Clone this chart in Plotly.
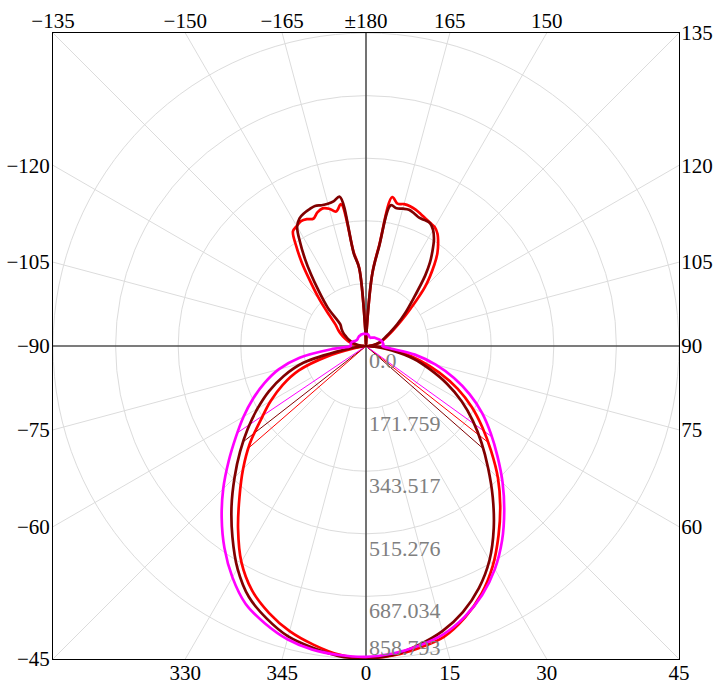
import numpy as np
import plotly.graph_objects as go

# ---------------- data ----------------
R_MAX = 858.793
ring_values = [0.0, 171.759, 343.517, 515.276, 687.034, 858.793]
ring_labels = ["0.0", "171.759", "343.517", "515.276", "687.034", "858.793"]

gamma = [0, 5, 10, 15, 20, 25, 30, 35, 40, 45, 50, 55, 60, 65, 70, 75, 80, 85, 90,
         95, 100, 105, 110, 115, 120, 125, 130, 135, 140,
         142.5, 145, 147.5, 150, 152.5, 155, 157.5, 160, 162.5, 165, 167.5, 170,
         172.5, 175, 177.5, 180]

magenta_right = [853, 847, 835, 819, 791, 754, 707, 651, 590, 530, 471, 418, 368, 314, 257, 198, 136, 62, 45,
                 48, 47, 46, 44, 41, 38, 36, 34, 33, 30,
                 29, 28, 27, 26, 26, 26, 26, 27, 28, 30, 31, 32, 33, 33, 33, 33]
magenta_left = [853, 851, 846, 833, 810, 781, 733, 677, 616, 554, 492, 436, 388, 342, 296, 248, 185, 92, 42,
                42, 42, 41, 37, 33, 31, 30, 30, 31, 32,
                32, 33, 33, 33, 33, 34, 34, 34, 34, 34, 34, 34, 34, 33, 33, 33]

red_right = [856, 852, 841, 826, 793, 750, 696, 634, 573, 512, 448, 390, 335, 277, 214, 153, 95, 40, 5,
             18, 30, 42, 52, 65, 85, 115, 160, 229, 292,
             322, 345, 365, 377, 381, 386, 392, 398, 402, 403, 400, 415, 280, 200, 50, 0]
red_left = [856, 850, 832, 810, 779, 740, 684, 612, 540, 477, 416, 352, 302, 252, 196, 110, 30, 8, 5,
            25, 38, 50, 62, 75, 88, 102, 131, 180, 246,
            290, 333, 373, 380, 386, 384, 378, 390, 396, 390, 378, 395, 260, 215, 50, 0]

darkred_right = [857, 851, 833, 810, 777, 733, 678, 611, 541, 474, 414, 358, 303, 245, 186, 135, 72, 30, 5,
                 15, 27, 38, 48, 60, 78, 105, 140, 184, 253,
                 288, 318, 347, 368, 380, 381, 381, 387, 392, 390, 387, 392, 275, 200, 50, 0]
darkred_left = [857, 854, 841, 825, 796, 760, 705, 639, 574, 510, 451, 396, 344, 294, 240, 178, 62, 15, 3,
                15, 28, 40, 50, 60, 72, 82, 92, 148, 208,
                248, 292, 336, 378, 395, 402, 406, 409, 405, 404, 407, 416, 255, 215, 45, 0]

bottom_angles = [-30, -15, 0, 15, 30, 45]
bottom_labels = ["330", "345", "0", "15", "30", "45"]
left_angles = [-45, -60, -75, -90, -105, -120]
left_labels = ["\u221245", "\u221260", "\u221275", "\u221290", "\u2212105", "\u2212120"]
top_angles = [-135, -150, -165, 180, 165, 150]
top_labels = ["\u2212135", "\u2212150", "\u2212165", "\u00b1180", "165", "150"]
right_angles = [60, 75, 90, 105, 120, 135]
right_labels = ["60", "75", "90", "105", "120", "135"]

series = [
    ("red", "#ff0000", red_left, red_right),
    ("darkred", "#800000", darkred_left, darkred_right),
    ("magenta", "#ff00ff", magenta_left, magenta_right),
]

# ---------------- helpers ----------------
R = R_MAX


def to_xy(theta_deg, r):
    t = np.radians(np.asarray(theta_deg, dtype=float))
    r = np.asarray(r, dtype=float)
    return r * np.sin(t), -r * np.cos(t)


def half_point(vals):
    peak = vals[0]
    half = peak / 2.0
    for i in range(1, len(gamma)):
        if gamma[i] > 90:
            break
        if vals[i] < half:
            g0, g1 = gamma[i - 1], gamma[i]
            v0, v1 = vals[i - 1], vals[i]
            g = g0 + (v0 - half) / (v0 - v1) * (g1 - g0)
            return g, half
    return None, None


fig = go.Figure()

# radial grid lines (every 15 deg, from first ring to the frame)
gx, gy = [], []
for a in range(0, 360, 15):
    if a % 90 == 0:
        continue
    s, c = np.sin(np.radians(a)), np.cos(np.radians(a))
    t_end = R / max(abs(s), abs(c))
    x0, y0 = to_xy([a], [ring_values[1]])
    x1, y1 = to_xy([a], [t_end])
    gx += [x0[0], x1[0], None]
    gy += [y0[0], y1[0], None]
fig.add_trace(go.Scatter(x=gx, y=gy, mode="lines", line=dict(color="#dcdcdc", width=1),
                         hoverinfo="skip", showlegend=False))

# beam (half intensity) lines
for name, color, left, right in series:
    for side, vals in ((-1, left), (1, right)):
        g, h = half_point(vals)
        if g is None:
            continue
        bx, by = to_xy([side * g, side * g], [0, h])
        fig.add_trace(go.Scatter(x=bx, y=by, mode="lines", line=dict(color=color, width=1),
                                 hoverinfo="skip", showlegend=False))

# intensity curves
for name, color, left, right in series:
    theta = [-g for g in gamma[::-1]] + gamma[1:]
    rr = left[::-1] + right[1:]
    cx, cy = to_xy(theta, rr)
    fig.add_trace(go.Scatter(x=cx, y=cy, mode="lines", name=name,
                             line=dict(color=color, width=2.7, shape="spline", smoothing=1.0),
                             showlegend=False))

# invisible trace to activate secondary axes
fig.add_trace(go.Scatter(x=[0], y=[0], xaxis="x2", yaxis="y2", mode="markers",
                         marker=dict(opacity=0), hoverinfo="skip", showlegend=False))

shapes = []
for r in ring_values[1:]:
    shapes.append(dict(type="circle", xref="x", yref="y", x0=-r, x1=r, y0=-r, y1=r,
                       line=dict(color="#dcdcdc", width=1), layer="below"))
shapes.append(dict(type="line", xref="x", yref="y", x0=-R, x1=R, y0=0, y1=0,
                   line=dict(color="#505050", width=1.6), layer="below"))
shapes.append(dict(type="line", xref="x", yref="y", x0=0, x1=0, y0=-R, y1=R,
                   line=dict(color="#505050", width=1.6), layer="below"))

annotations = []
for i, (rv, lab) in enumerate(zip(ring_values, ring_labels)):
    last = i == len(ring_values) - 1
    annotations.append(dict(x=0, y=-rv, xref="x", yref="y", text=lab, showarrow=False,
                            xanchor="left", yanchor="bottom" if last else "top",
                            xshift=1, yshift=-3 if last else 0,
                            font=dict(family="Liberation Serif", size=22, color="#808080")))

bottom_pos = [R * np.tan(np.radians(a)) for a in bottom_angles]
left_pos = [R * np.cos(np.radians(a)) / np.sin(np.radians(a)) for a in left_angles]
top_pos = [-R * np.tan(np.radians(a)) for a in top_angles]
right_pos = [-R * np.cos(np.radians(a)) / np.sin(np.radians(a)) for a in right_angles]

tickfont = dict(family="Liberation Serif", size=21, color="#000000")
axis_common = dict(range=[-R, R], showgrid=False, zeroline=False, showline=True,
                   linecolor="#000000", linewidth=1, ticks="", tickfont=tickfont,
                   fixedrange=True, tickmode="array", automargin=False)

fig.update_layout(
    width=716, height=684,
    margin=dict(l=53, r=37, t=33, b=25, autoexpand=False),
    paper_bgcolor="white", plot_bgcolor="white",
    showlegend=False,
    xaxis=dict(**axis_common, tickvals=bottom_pos, ticktext=bottom_labels, ticklabelstandoff=-5),
    yaxis=dict(**axis_common, tickvals=left_pos, ticktext=left_labels, ticklabelstandoff=-2),
    xaxis2=dict(**axis_common, tickvals=top_pos, ticktext=top_labels, ticklabelstandoff=-4,
                overlaying="x", side="top", anchor="y"),
    yaxis2=dict(**axis_common, tickvals=right_pos, ticktext=right_labels, ticklabelstandoff=-3,
                overlaying="y", side="right", anchor="x"),
    shapes=shapes,
    annotations=annotations,
)

fig.write_html("out.html",
               config={"displayModeBar": False},
               post_script="document.body.style.margin='0px';document.body.style.overflow='hidden';")
